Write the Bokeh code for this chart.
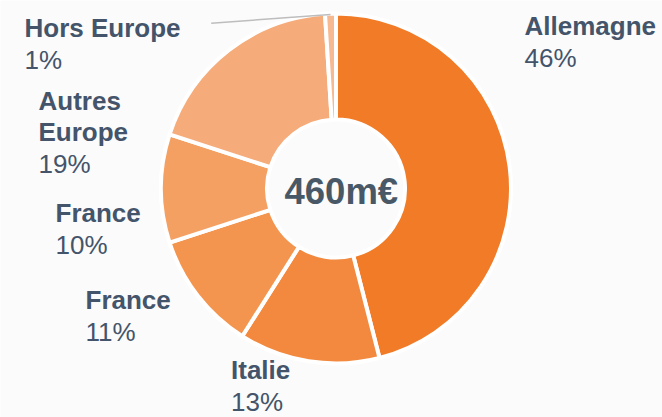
import math
from bokeh.plotting import figure
from bokeh.models import Range1d, ColumnDataSource
from bokeh.core.properties import value
from bokeh.embed import file_html
from bokeh.resources import INLINE

# ---- data ----
categories = ["Allemagne", "Italie", "France", "France", "Autres\nEurope", "Hors Europe"]
shares = [46, 13, 11, 10, 19, 1]
pct_labels = ["46%", "13%", "11%", "10%", "19%", "1%"]
total_label = "460m€"
colors = ["#F17B26", "#F2893E", "#F3954F", "#F4A063", "#F5AC7A", "#F6B992"]

# ---- layout (page pixel coords; y measured from top of window) ----
W, H = 662, 417
BG = "#fbfbfb"
TXT = "#44546a"
cx_pg, cy_pg = 335.5, 188.0
r_out, r_in = 175, 69
TXT_DY = -10.0   # renderer baseline correction

# label anchors: left x, baseline y of first line (page coords)
label_pos = [(524, 35), (230.5, 379.3), (85, 309), (55, 222.3), (38, 110.7), (24, 37.3)]

def yd(py):
    return H - py

p = figure(width=W, height=H, output_backend="svg", toolbar_location=None,
           x_range=Range1d(0, W), y_range=Range1d(0, H), min_border=0,
           x_axis_location=None, y_axis_location=None)
p.grid.visible = False
p.outline_line_color = None
p.background_fill_color = BG
p.border_fill_color = BG

# wedges: clockwise from 12 o'clock
tot = float(sum(shares))
starts, ends = [], []
cum = 0.0
for v in shares:
    a0 = cum / tot
    cum += v
    a1 = cum / tot
    starts.append(math.pi / 2 - 2 * math.pi * a1)
    ends.append(math.pi / 2 - 2 * math.pi * a0)

src = ColumnDataSource(dict(x=[cx_pg] * len(shares), y=[yd(cy_pg)] * len(shares),
                            start=starts, end=ends, color=colors))
p.annular_wedge(x="x", y="y", inner_radius=r_in, outer_radius=r_out,
                start_angle="start", end_angle="end", fill_color="color",
                line_color="white", line_width=4, source=src)

# leader line for "Hors Europe"
mid_last = (starts[-1] + ends[-1]) / 2
ex = cx_pg + (r_out - 1) * math.cos(mid_last)
ey = yd(cy_pg) + (r_out - 1) * math.sin(mid_last)
p.line(x=[210.7, ex], y=[yd(22.7), ey], line_color="#bdbdbd", line_width=1.5)

# labels
name_x, name_y, name_t = [], [], []
pct_x, pct_y = [], []
for cat, (lx, ly) in zip(categories, label_pos):
    lines = cat.split("\n")
    for i, ln in enumerate(lines):
        name_x.append(lx)
        name_y.append(yd(ly + i * 31 + TXT_DY))
        name_t.append(ln)
    pct_x.append(lx)
    pct_y.append(yd(ly + (len(lines) - 1) * 31 + 32.2 + TXT_DY))

p.text(x=name_x, y=name_y, text=name_t, text_font=value("Liberation Sans"),
       text_font_style="bold", text_font_size="26px", text_color=TXT,
       text_align="left", text_baseline="alphabetic")
p.text(x=pct_x, y=pct_y, text=pct_labels, text_font=value("Liberation Sans"),
       text_font_size="26px", text_color=TXT,
       text_align="left", text_baseline="alphabetic")

# centre total
p.text(x=[284], y=[yd(202 + TXT_DY - 1)], text=[total_label], text_font=value("Liberation Sans"),
       text_font_style="bold", text_font_size="36.5px", text_color="#485866",
       text_align="left", text_baseline="alphabetic")

html = file_html(p, INLINE)
html = html.replace("<body>", '<body style="background-color:%s;margin:0;overflow:hidden;">' % BG, 1)
open("out.html", "w").write(html)
